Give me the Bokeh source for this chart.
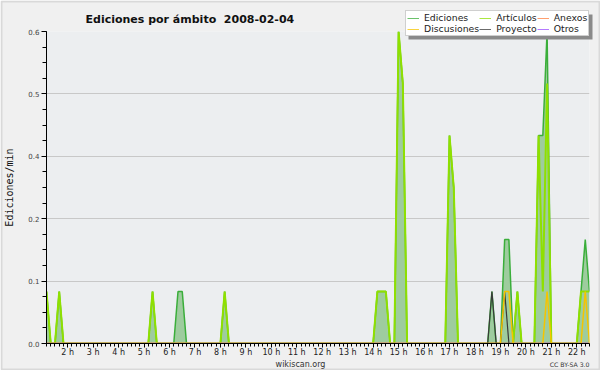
import pandas as pd
from bokeh.plotting import figure
from bokeh.models import Range1d, FixedTicker, Legend, LegendItem, Label, BoxAnnotation, GridBox
from bokeh.embed import file_html
from bokeh.resources import INLINE

# ---- data (edits per minute, 10-minute bins, 2008-02-04; bins not listed are 0) ----
day = "2008-02-04"
start_time = "01:10"
end_time = "22:30"

ediciones_times = ["01:10", "01:40", "05:20", "06:20", "06:30", "08:10", "14:10", "14:20",
                   "14:30", "15:00", "15:10", "17:00", "17:10", "18:40", "19:10", "19:20",
                   "19:40", "20:30", "20:40", "20:50", "22:10", "22:20", "22:30"]
ediciones_vals = [0.1, 0.1, 0.1, 0.1, 0.1, 0.1, 0.1, 0.1,
                  0.1, 0.6, 0.5, 0.4, 0.3, 0.1, 0.2, 0.2,
                  0.1, 0.4, 0.4, 0.6, 0.1, 0.2, 0.1]

articulos_times = ["01:10", "01:40", "05:20", "08:10", "14:10", "14:20", "14:30", "15:00",
                   "15:10", "17:00", "17:10", "19:40", "20:30", "20:40", "20:50", "22:10",
                   "22:20", "22:30"]
articulos_vals = [0.1, 0.1, 0.1, 0.1, 0.1, 0.1, 0.1, 0.6,
                  0.5, 0.4, 0.3, 0.1, 0.4, 0.1, 0.5, 0.1,
                  0.1, 0.1]

discusiones_times = ["19:10", "19:20", "20:50", "22:20"]
discusiones_vals = [0.1, 0.1, 0.1, 0.1]

proyecto_times = ["18:40", "19:10"]
proyecto_vals = [0.1, 0.1]

anexos_times = []
anexos_vals = []

otros_times = []
otros_vals = []

title_text = "Ediciones por ámbito \u00a02008-02-04"
series_names = ["Ediciones", "Discusiones", "Artículos", "Proyecto", "Anexos", "Otros"]
series_colors = {"Ediciones": "#3aae3a", "Artículos": "#8fe000", "Anexos": "#ff7f3f",
                 "Discusiones": "#f5c400", "Proyecto": "#3a3a3a", "Otros": "#9b4dff"}
series_widths = {"Ediciones": 1.5, "Artículos": 2, "Anexos": 1.5, "Otros": 1.5,
                 "Proyecto": 1.2, "Discusiones": 1.5}

x_tick_hours = [2, 3, 4, 5, 6, 7, 8, 9, 10, 11, 12, 13, 14, 15, 16, 17, 18, 19, 20, 21, 22]
x_tick_labels = ["2 h", "3 h", "4 h", "5 h", "6 h", "7 h", "8 h", "9 h", "10 h", "11 h", "12 h",
                 "13 h", "14 h", "15 h", "16 h", "17 h", "18 h", "19 h", "20 h", "21 h", "22 h"]
y_ticks = [0.0, 0.12, 0.24, 0.36, 0.48, 0.60]
y_tick_labels = ["0.0", "0.1", "0.2", "0.4", "0.5", "0.6"]
y_minor_ticks = [0.03 * i for i in range(21)]

# ---- build full series on the 10-minute grid ----
grid = pd.date_range(f"{day} {start_time}", f"{day} {end_time}", freq="10min")
hours = list(grid.hour + grid.minute / 60.0)


def series(times, vals):
    if not times:
        return [0.0] * len(grid)
    s = pd.Series(vals, index=pd.to_datetime([f"{day} {t}" for t in times]))
    return list(s.reindex(grid, fill_value=0.0).values)


ed = series(ediciones_times, ediciones_vals)
art = series(articulos_times, articulos_vals)
disc = series(discusiones_times, discusiones_vals)
proy = series(proyecto_times, proyecto_vals)
anx = series(anexos_times, anexos_vals)
otr = series(otros_times, otros_vals)

FONT = "DejaVu Sans"
W, H = 600, 370

# ---------------- main chart ----------------
p = figure(width=W, height=H, output_backend="svg", toolbar_location=None,
           x_range=Range1d(hours[0], hours[-1]), y_range=Range1d(0, 0.6),
           min_border_left=46, min_border_right=11, min_border_top=31, min_border_bottom=27,
           background_fill_color="#eceef0", border_fill_color="#f0f0f0",
           outline_line_color=None, frame_align=False)
p.title.visible = False

p.varea(x=hours, y1=[0.0] * len(hours), y2=ed, fill_color="#9ecc9e", fill_alpha=1.0)
p.line(hours, ed, line_color=series_colors["Ediciones"], line_width=series_widths["Ediciones"])
p.line(hours, art, line_color=series_colors["Artículos"], line_width=series_widths["Artículos"])
p.line(hours, anx, line_color=series_colors["Anexos"], line_width=series_widths["Anexos"])
p.line(hours, otr, line_color=series_colors["Otros"], line_width=series_widths["Otros"])
p.line(hours, proy, line_color=series_colors["Proyecto"], line_width=series_widths["Proyecto"])
p.line(hours, disc, line_color=series_colors["Discusiones"], line_width=series_widths["Discusiones"])

xa = p.xaxis[0]
xa.ticker = FixedTicker(ticks=x_tick_hours, minor_ticks=hours)
xa.major_label_overrides = {h: lab for h, lab in zip(x_tick_hours, x_tick_labels)}
xa.major_label_text_font = FONT
xa.major_label_text_font_size = "8px"
xa.major_label_text_color = "#222222"
xa.major_label_standoff = 0
xa.major_tick_out = 4
xa.major_tick_in = 0
xa.minor_tick_out = 3
xa.minor_tick_in = 0
xa.axis_line_color = "black"
xa.major_tick_line_color = "black"
xa.minor_tick_line_color = "black"

ya = p.yaxis[0]
ya.ticker = FixedTicker(ticks=y_ticks, minor_ticks=y_minor_ticks)
ya.major_label_overrides = {t: lab for t, lab in zip(y_ticks, y_tick_labels)}
ya.major_label_text_font = FONT
ya.major_label_text_font_size = "7px"
ya.major_label_text_color = "#444444"
ya.major_label_standoff = 2
ya.major_tick_out = 5
ya.major_tick_in = 0
ya.minor_tick_out = 4
ya.minor_tick_in = 0
ya.axis_label = "Ediciones/min"
ya.axis_label_text_font = "DejaVu Sans Mono"
ya.axis_label_text_font_size = "10px"
ya.axis_label_text_font_style = "normal"
ya.axis_label_text_color = "#111111"
ya.axis_label_standoff = 10
ya.axis_line_color = "black"

p.xgrid.visible = False
p.ygrid.grid_line_color = "#c8c8c8"
p.ygrid.grid_line_width = 1

# ---------------- transparent overlay (title, legend, credits; frame = whole canvas) ----------------
o = figure(width=W, height=H, output_backend="svg", toolbar_location=None,
           x_range=Range1d(0, 1), y_range=Range1d(0, 1),
           x_axis_location=None, y_axis_location=None,
           min_border=0, min_border_left=0, min_border_right=0, min_border_top=0, min_border_bottom=0,
           background_fill_alpha=0, border_fill_alpha=0, outline_line_color=None,
           frame_align=False)
o.title.visible = False
o.grid.visible = False

# outer frame of the image
o.add_layout(BoxAnnotation(left=1, right=W - 1, top=H - 1, bottom=1,
                           left_units="screen", right_units="screen",
                           top_units="screen", bottom_units="screen",
                           fill_alpha=0, line_color="#a6a6a6", line_width=2))

o.add_layout(Label(x=85, y=H - 18.5, x_units="screen", y_units="screen", text=title_text,
                   text_font=FONT, text_font_size="11px", text_font_style="bold",
                   text_align="left", text_baseline="alphabetic", text_color="#111111"))

# legend proxies (kept outside the overlay's visible range)
items = []
for name in series_names:
    r = o.line(x=[0.0, 1.0], y=[-5.0, -5.0], line_color=series_colors[name],
               line_width=1, line_alpha=0.75)
    items.append(LegendItem(label=name, renderers=[r]))

# legend shadow
o.add_layout(BoxAnnotation(left=408, right=592, top=H - 14, bottom=H - 39,
                           left_units="screen", right_units="screen",
                           top_units="screen", bottom_units="screen",
                           fill_color="#8a8a8a", fill_alpha=1.0, line_color=None))

legend = Legend(items=items, location=(405, H - 36), orientation="vertical", nrows=2,
                label_text_font=FONT, label_text_font_size="9.3px", label_text_color="#222222",
                label_height=10, glyph_height=10, glyph_width=12, label_standoff=5,
                spacing=0, padding=1, margin=0,
                border_line_color="#a0a0a0", border_line_width=1,
                background_fill_color="white", background_fill_alpha=1.0)
o.add_layout(legend, "center")

o.add_layout(Label(x=300, y=H - 364, x_units="screen", y_units="screen", text="wikiscan.org",
                   text_font=FONT, text_font_size="8px", text_align="center",
                   text_baseline="alphabetic", text_color="#333333"))
o.add_layout(Label(x=589, y=H - 364, x_units="screen", y_units="screen", text="CC BY-SA 3.0",
                   text_font=FONT, text_font_size="6.2px", text_align="right",
                   text_baseline="alphabetic", text_color="#333333"))

layout = GridBox(children=[(p, 0, 0), (o, 0, 0)])

open("out.html", "w").write(file_html(layout, INLINE))
